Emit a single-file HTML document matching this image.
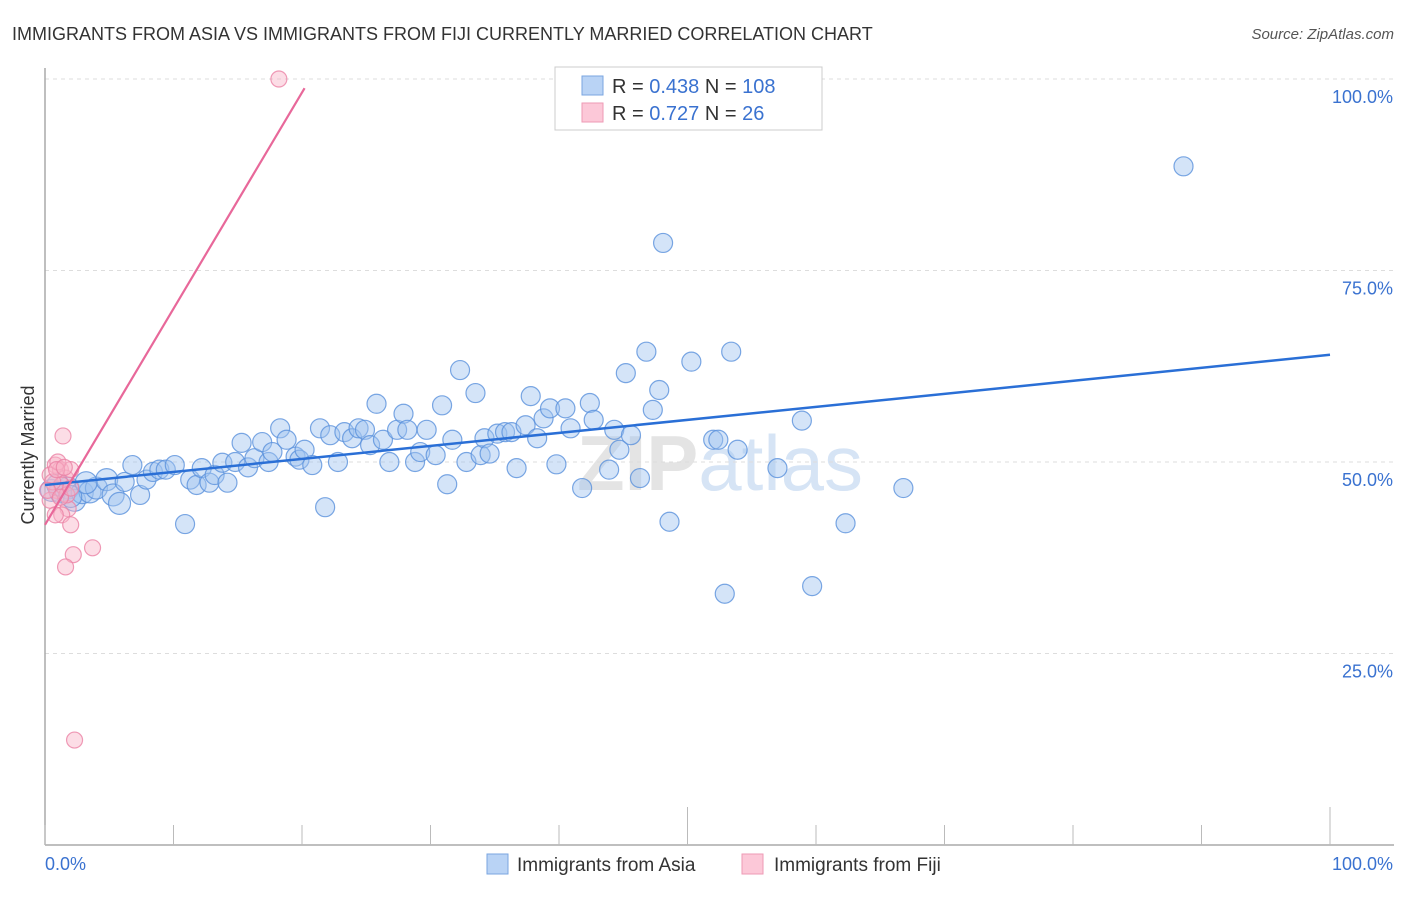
<!DOCTYPE html>
<html><head><meta charset="utf-8"><style>
body{margin:0;background:#fff;font-family:"Liberation Sans",sans-serif}
svg text{font-family:"Liberation Sans",sans-serif}
</style></head><body>
<svg id="chart" width="1406" height="892" xmlns="http://www.w3.org/2000/svg">
<text x="12" y="40" font-size="18" fill="#333">IMMIGRANTS FROM ASIA VS IMMIGRANTS FROM FIJI CURRENTLY MARRIED CORRELATION CHART</text>
<text x="1394" y="39" font-size="15" fill="#555" text-anchor="end" font-style="italic">Source: ZipAtlas.com</text>
<text x="720" y="490" font-size="78" fill="#e4e4e4" text-anchor="middle" font-weight="bold">ZIP<tspan fill="#d6e4f5" font-weight="normal">atlas</tspan></text>
<g id="grid"></g>
<g id="axes"></g>
<g id="pts"></g>
<g id="lines"></g>
<text transform="translate(34,455) rotate(-90)" font-size="18" fill="#333" text-anchor="middle">Currently Married</text>
<g>
<rect x="555" y="67" width="267" height="63" fill="#fff" stroke="#ccc"/>
<rect x="582" y="76" width="21" height="19" fill="#b9d3f5" stroke="#7aa6e0"/>
<rect x="582" y="103" width="21" height="19" fill="#fcc8d8" stroke="#ee9ab5"/>
<text x="612" y="93" font-size="20" fill="#333">R = <tspan fill="#3a72d0">0.438</tspan>   N = <tspan fill="#3a72d0">108</tspan></text>
<text x="612" y="120" font-size="20" fill="#333">R = <tspan fill="#3a72d0">0.727</tspan>   N =   <tspan fill="#3a72d0">26</tspan></text>
</g>
<g>
<rect x="487" y="854" width="21" height="20" fill="#b9d3f5" stroke="#7aa6e0"/>
<text x="517" y="871" font-size="19" fill="#333">Immigrants from Asia</text>
<rect x="742" y="854" width="21" height="20" fill="#fcc8d8" stroke="#ee9ab5"/>
<text x="774" y="871" font-size="19" fill="#333">Immigrants from Fiji</text>
</g>
</svg>
<script>
const asiaX=[0.5,1.2,1.8,2.3,2.9,3.5,4.0,4.8,5.3,5.8,6.2,6.8,7.4,7.9,8.4,8.9,9.4,10.1,10.9,11.3,11.8,12.2,12.8,13.2,13.8,14.2,14.8,15.3,15.8,16.3,16.9,17.4,17.7,18.3,18.8,19.5,19.8,20.2,20.8,21.4,21.8,22.2,22.8,23.3,23.9,24.4,24.9,25.3,25.8,26.3,26.8,27.4,27.9,28.2,28.8,29.2,29.7,30.4,30.9,31.3,31.7,32.3,32.8,33.5,33.9,34.2,34.6,35.2,35.8,36.3,36.7,37.4,37.8,38.3,38.8,39.3,39.8,40.5,40.9,41.8,42.4,42.7,43.9,44.3,44.7,45.2,45.6,46.3,46.8,47.3,47.8,48.1,48.6,50.3,52.0,52.4,52.9,53.4,53.9,57.0,58.9,59.7,62.3,66.8,88.6,1.0,2.0,3.2];
const asiaY=[46.3,46.1,46.6,45.0,46.0,46.1,46.6,47.7,45.7,44.6,47.4,49.6,45.7,47.7,48.7,49.0,49.0,49.6,41.9,47.7,47.0,49.2,47.3,48.3,49.9,47.3,50.0,52.5,49.3,50.5,52.6,50.0,51.3,54.4,52.9,50.7,50.3,51.6,49.6,54.4,44.1,53.5,50.0,53.9,53.1,54.4,54.2,52.2,57.6,52.9,50.0,54.2,56.3,54.2,50.0,51.3,54.2,50.9,57.4,47.1,52.9,62.0,50.0,59.0,50.9,53.1,51.1,53.7,53.9,53.9,49.2,54.8,58.6,53.1,55.7,57.0,49.7,57.0,54.4,46.6,57.7,55.5,49.0,54.2,51.6,61.6,53.5,47.9,64.4,56.8,59.4,78.6,42.2,63.1,52.9,52.9,32.8,64.4,51.6,49.2,55.4,33.8,42.0,46.6,88.6,47.0,45.5,47.3];
const fijiX=[18.2,1.4,0.8,1.2,0.4,1.6,2.0,0.9,1.3,0.4,1.8,1.3,2.0,0.8,2.2,3.7,1.6,2.3,1.0,0.6,1.7,0.2,1.2,0.9,1.5,2.0];
const fijiY=[100,53.4,49.6,49.0,48.3,47.9,49.0,46.3,47.0,45.0,43.9,43.1,41.8,43.1,37.9,38.8,36.3,13.7,50.0,47.4,45.7,46.3,45.4,49.0,49.3,46.6];
const asiaLine=[[0,47.0],[100,64.0]];
const fijiLine=[[0,41.8],[20.2,98.8]];
const yTicks=[25,50,75,100];
const yTickLabels=["25.0%","50.0%","75.0%","100.0%"];
const xTicks=[0,10,20,30,40,50,60,70,80,90,100];
const X0=45,X1=1330,Y0=845,Y100=79;
const sx=v=>X0+(X1-X0)*v/100;
const sy=v=>Y0-(Y0-Y100)*v/100;
const NS="http://www.w3.org/2000/svg";
function mk(tag,attrs,parent){const e=document.createElementNS(NS,tag);for(const k in attrs)e.setAttribute(k,attrs[k]);parent.appendChild(e);return e;}
const grid=document.getElementById('grid'),axes=document.getElementById('axes'),pts=document.getElementById('pts'),lines=document.getElementById('lines');
yTicks.forEach((t,i)=>{
 const g=mk('line',{x1:X0,x2:1394,y1:sy(t),y2:sy(t),stroke:'#ddd','stroke-dasharray':'4,4'},grid);
 
 
 const l=mk('text',{x:1393,y:sy(t)+24,'font-size':18,fill:'#3a72d0','text-anchor':'end'},axes);
 l.textContent=yTickLabels[i];
 
 
});
const ax=mk('line',{x1:X0,x2:1394,y1:Y0,y2:Y0,stroke:'#aaa','stroke-width':1.5},axes);


const ay=mk('line',{x1:X0,x2:X0,y1:68,y2:Y0,stroke:'#aaa','stroke-width':1.5},axes);


xTicks.forEach(t=>{
 const major=(t===50||t===100);
 const tk=mk('line',{x1:sx(t),x2:sx(t),y1:major?807:825,y2:Y0,stroke:'#bbb'},axes);
 
 
});
const xl0=mk('text',{x:45,y:870,'font-size':18,fill:'#3a72d0'},axes);xl0.textContent='0.0%';


const xl1=mk('text',{x:1393,y:870,'font-size':18,fill:'#3a72d0','text-anchor':'end'},axes);xl1.textContent='100.0%';


asiaX.forEach((v,i)=>{
 const c=mk('circle',{cx:sx(v),cy:sy(asiaY[i]),r:v<6?11:9.5,fill:'rgba(160,196,240,0.45)',stroke:'rgba(90,145,220,0.8)','stroke-width':1.2},pts);
 
 
});
fijiX.forEach((v,i)=>{
 const c=mk('circle',{cx:sx(v),cy:sy(fijiY[i]),r:8,fill:'rgba(248,180,200,0.45)',stroke:'rgba(235,130,165,0.8)','stroke-width':1.2},pts);
 
 
});
const la=mk('line',{x1:sx(asiaLine[0][0]),y1:sy(asiaLine[0][1]),x2:sx(asiaLine[1][0]),y2:sy(asiaLine[1][1]),stroke:'#2a6fd6','stroke-width':2.5},lines);


const lf=mk('line',{x1:sx(fijiLine[0][0]),y1:sy(fijiLine[0][1]),x2:sx(fijiLine[1][0]),y2:sy(fijiLine[1][1]),stroke:'#e8689a','stroke-width':2.2},lines);


</script>
</body></html>
